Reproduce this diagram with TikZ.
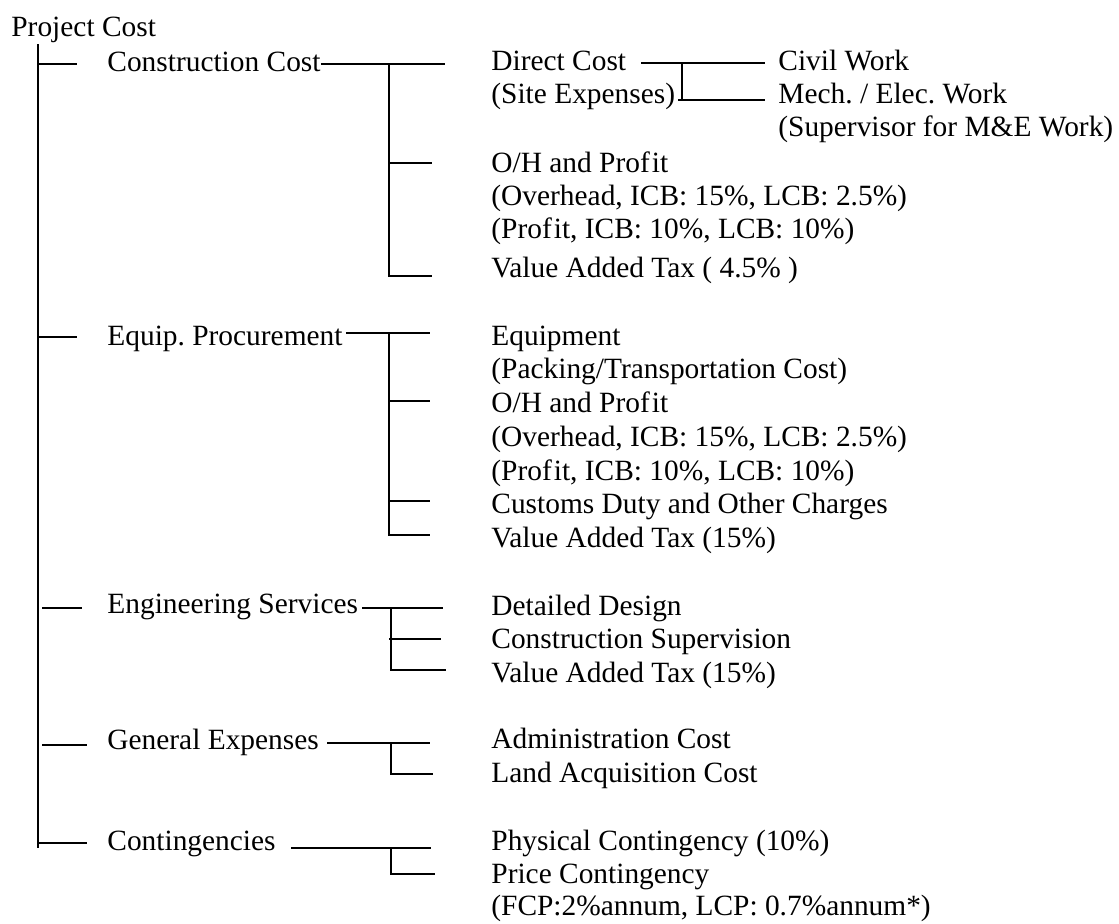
\documentclass[tikz,border=0pt]{standalone}
\usepackage{fontspec}
\setmainfont{Liberation Serif}
\usetikzlibrary{positioning}

\tikzset{
  branch/.style={line width=1.4pt},
  item/.style={anchor=base west, inner sep=0pt, font=\fontsize{14.7}{17}\selectfont\frenchspacing},
}
\newcommand{\Profit}{Prof\kern0.07em it}

\begin{document}
\begin{tikzpicture}[x=0.5pt, y=-0.5pt]
  \fill[white] (0,0) rectangle (1119,923);
  \useasboundingbox (0,0) rectangle (1119,923);

  % top level
  \node[item] (pc) at (11,36) {Project Cost};
  \node[item] (cc) at (107,71) {Construction Cost};
  \node[item] (ep) at (107,345) {Equip. Procurement};
  \node[item] (es) at (107,613) {Engineering Services};
  \node[item] (ge) at (107,749) {General Expenses};
  \node[item] (ct) at (107,850) {Contingencies};

  % construction cost
  \node[item] (dc) at (491,70) {Direct Cost};
  \node[item] (se) at (491,103) {(Site Expenses)};
  \node[item] (cw) at (778,70) {Civil Work};
  \node[item] (me) at (778,103) {Mech. / Elec. Work};
  \node[item] (sv) at (778,136) {(Supervisor for M\&E Work)};
  \node[item] (oh1) at (491,172) {O/H and \Profit};
  \node[item] (ov1) at (491,205) {(Overhead, ICB: 15\%, LCB: 2.5\%)};
  \node[item] (pr1) at (491,238) {(\Profit, ICB: 10\%, LCB: 10\%)};
  \node[item] (va1) at (491,277) {Value Added Tax ( 4.5\% )};

  % equipment
  \node[item] (eq) at (491,345) {Equipment};
  \node[item] (pk) at (491,378) {(Packing/Transportation Cost)};
  \node[item] (oh2) at (491,412) {O/H and \Profit};
  \node[item] (ov2) at (491,446) {(Overhead, ICB: 15\%, LCB: 2.5\%)};
  \node[item] (pr2) at (491,480) {(\Profit, ICB: 10\%, LCB: 10\%)};
  \node[item] (cu) at (491,513) {Customs Duty and Other Charges};
  \node[item] (va2) at (491,547) {Value Added Tax (15\%)};

  % engineering, general, contingencies
  \node[item] (dd) at (491,615) {Detailed Design};
  \node[item] (cs) at (491,648) {Construction Supervision};
  \node[item] (va3) at (491,682) {Value Added Tax (15\%)};
  \node[item] (ad) at (491,748) {Administration Cost};
  \node[item] (la) at (491,782) {Land Acquisition Cost};
  \node[item] (ph) at (491,850) {Physical Contingency (10\%)};
  \node[item] (pg) at (491,883) {Price Contingency};
  \node[item] (fc) at (491,915) {(FCP:2\%annum, LCP: 0.7\%annum*)};

  % trunk and its ticks
  \coordinate (trunk) at (38,44);
  \coordinate (trunk end) at (38,848);
  \draw[branch] (trunk) -- (trunk end);
  \foreach \n/\xa/\ya/\xb in {1/38/64/77, 2/38/337/77, 3/42/608/82, 4/42/745/87, 5/38/843/87}
    \draw[branch] (\xa,\ya) coordinate (t\n) -- (\xb,\ya);

  % construction cost branch
  \coordinate (cc-j) at (389,64);
  \draw[branch] (cc.east |- cc-j) -- (445,64);
  \draw[branch] (cc-j) |- (432,276);
  \draw[branch] (cc-j |- 0,163) -- (432,163);
  \coordinate (dc-j) at (682,63);
  \draw[branch] (641,63) -- (765,63);
  \draw[branch] (dc-j) |- (765,100);
  \draw[branch] (678,100) -- (dc-j |- 0,100);

  % equipment branch
  \coordinate (ep-j) at (389,333);
  \draw[branch] (ep.east |- ep-j) ++(3,0) -- (430,333);
  \draw[branch] (ep-j) |- (430,535);
  \draw[branch] (ep-j |- 0,401) -- (430,401);
  \draw[branch] (ep-j |- 0,501) -- (430,501);

  % engineering branch
  \coordinate (es-j) at (391,608);
  \draw[branch] (362,608) -- (443,608);
  \draw[branch] (es-j) |- (446,670);
  \draw[branch] (389,639) -- (441,639);

  % general expenses branch
  \coordinate (ge-j) at (391,743);
  \draw[branch] (327,743) -- (430,743);
  \draw[branch] (ge-j) |- (433,774);

  % contingencies branch
  \coordinate (ct-j) at (391,848);
  \draw[branch] (291,848) -- (431,848);
  \draw[branch] (ct-j) |- (435,874);
\end{tikzpicture}
\end{document}
